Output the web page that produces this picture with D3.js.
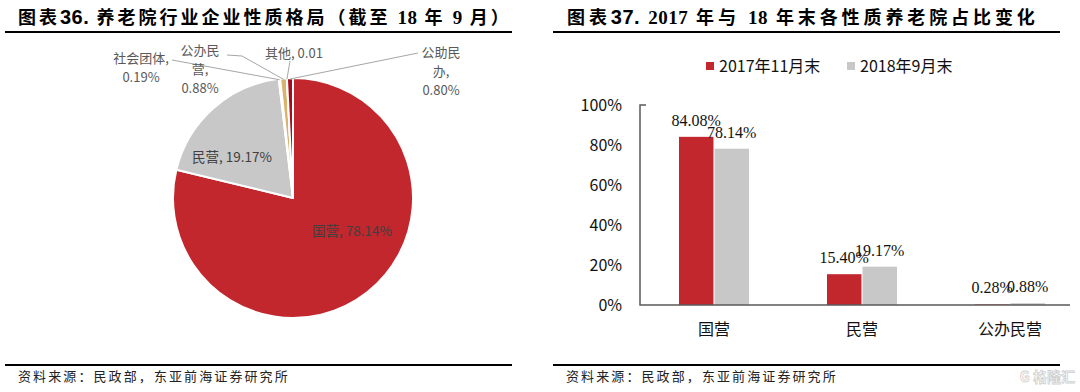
<!DOCTYPE html>
<html><head><meta charset="utf-8">
<script src="https://cdn.jsdelivr.net/npm/d3@7/dist/d3.min.js"></script>
<style>
html,body{margin:0;padding:0;background:#fff;}
svg{display:block;}
</style></head>
<body>
<script>
// ---------- data ----------
const pieCategories = ["国营", "民营", "社会团体", "公办民营", "其他", "公助民办"];
const pieValues = [78.14, 19.17, 0.19, 0.88, 0.01, 0.80];
const pieLabelLines = [["国营, 78.14%"], ["民营, 19.17%"], ["社会团体,", "0.19%"], ["公办民", "营,", "0.88%"], ["其他, 0.01"], ["公助民", "办,", "0.80%"]];

const barCategories = ["国营", "民营", "公办民营"];
const seriesNames = ["2017年11月末", "2018年9月末"];
const series2017 = [84.08, 15.40, 0.28];
const series2018 = [78.14, 19.17, 0.88];
const yTicks = [0, 20, 40, 60, 80, 100];

const title1 = ["图表", "36.", " 养老院行业企业性质格局（截至 ", "18", " 年 ", "9", " 月）"];
const title2 = ["图表", "37.", " ", "2017", " 年与 ", "18", " 年末各性质养老院占比变化"];
const sourceText = "资料来源：民政部，东亚前海证券研究所";

// ---------- styles ----------
const CJK = "'Noto Sans CJK SC','Noto Sans',sans-serif";
const SERIF = "'Liberation Serif','DejaVu Serif',serif";
const SANSB = "'Liberation Sans',Arial,sans-serif";
const RED = "#C1272D", GRAY = "#C8C8C8";
const pieColors = [RED, GRAY, "#FFC000", "#D9B36C", "#7F7F7F", "#A50D1E"];

const svg = d3.select("body").append("svg").attr("width", 1080).attr("height", 392);

// ---------- titles / rules / sources ----------
function drawTitle(parts, x, y, ls) {
  const t = svg.append("text").attr("x", x).attr("y", y)
    .attr("font-size", 18).attr("font-weight", "bold").attr("fill", "#000");
  parts.forEach((p, i) => {
    const isNum = /^[0-9.]+$/.test(p);
    t.append("tspan").text(p)
      .attr("font-family", (i === 1) ? SANSB : (isNum ? SERIF : CJK))
      .attr("font-size", (i === 1) ? 20 : (isNum ? 19 : 18))
      .attr("letter-spacing", isNum ? 0.5 : ls);
  });
}
drawTitle(title1, 18, 24, 3.0);
drawTitle(title2, 567, 24, 3.9);

[[5, 512], [553, 1060]].forEach(([a, b]) => {
  svg.append("line").attr("x1", a).attr("x2", b).attr("y1", 32).attr("y2", 32).attr("stroke", "#000").attr("stroke-width", 2);
  svg.append("line").attr("x1", a).attr("x2", b).attr("y1", 365).attr("y2", 365).attr("stroke", "#000").attr("stroke-width", 2);
});
[18, 566].forEach(x => {
  svg.append("text").attr("x", x).attr("y", 381).text(sourceText)
    .attr("font-family", "'Noto Sans CJK SC',sans-serif").attr("font-size", 13)
    .attr("letter-spacing", 2.1).attr("fill", "#222");
});
// watermark
svg.append("text").attr("x", 1075).attr("y", 382).attr("text-anchor", "end").text("G 格隆汇")
  .attr("font-family", CJK).attr("font-size", 14).attr("font-weight", "bold").attr("fill", "none")
  .attr("stroke", "#d0d0d0").attr("stroke-width", 0.8);

// ---------- pie ----------
const cx = 293, cy = 198, R = 120;
const pie = d3.pie().sort(null).value(d => d)(pieValues);
const arc = d3.arc().innerRadius(0).outerRadius(R);
const gp = svg.append("g").attr("transform", `translate(${cx},${cy})`);
gp.selectAll("path").data(pie).join("path")
  .attr("d", arc).attr("fill", (d, i) => pieColors[i])
  .attr("stroke", "#fff").attr("stroke-width", 2).attr("stroke-linejoin", "round");

// inside labels
const innerPos = [[59, 38], [-61, -36]];
[0, 1].forEach(i => {
  gp.append("text").attr("x", innerPos[i][0]).attr("y", innerPos[i][1])
    .attr("text-anchor", "middle").text(pieLabelLines[i][0])
    .attr("font-family", CJK).attr("font-size", 13.5).attr("fill", "#404040");
});
// outside labels + leaders
const outside = [
  {i: 2, x: 141, y: 63, lead: [[172, 60]]},
  {i: 3, x: 200, y: 55, lead: [[227, 55], [242, 56]]},
  {i: 4, x: 294, y: 58, lead: [[290, 61]]},
  {i: 5, x: 441, y: 57, lead: [[418, 53]]}
];
outside.forEach(o => {
  const d = pie[o.i];
  const a = (d.startAngle + d.endAngle) / 2;
  const ex = cx + Math.sin(a) * (R - 1), ey = cy - Math.cos(a) * (R - 1);
  const pts = o.lead.concat([[ex, ey]]);
  svg.append("path").attr("d", d3.line()(pts)).attr("fill", "none")
    .attr("stroke", "#A6A6A6").attr("stroke-width", 1);
  const t = svg.append("text").attr("text-anchor", "middle")
    .attr("font-family", CJK).attr("font-size", 13).attr("fill", "#595959");
  pieLabelLines[o.i].forEach((ln, k) => {
    t.append("tspan").attr("x", o.x).attr("y", o.y + k * 19).text(ln);
  });
});

// ---------- bar chart ----------
const y = d3.scaleLinear().domain([0, 100]).range([305, 105]);
const x = d3.scaleBand().domain(barCategories).range([640, 1084]);
const rows = barCategories.map((c, i) => ({cat: c, vals: [series2017[i], series2018[i]]}));
const inner = d3.scaleBand().domain([0, 1]).range([0, 70]).paddingInner(0.03);
const colors = [RED, GRAY];

const gb = svg.append("g");
rows.forEach(r => {
  const gx = x(r.cat) + x.bandwidth() / 2 - 35;
  r.vals.forEach((v, k) => {
    gb.append("rect").attr("x", gx + inner(k)).attr("width", inner.bandwidth())
      .attr("y", y(v)).attr("height", y(0) - y(v)).attr("fill", colors[k]);
  });
});
rows.forEach(r => {
  const gx = x(r.cat) + x.bandwidth() / 2 - 35;
  r.vals.forEach((v, k) => {
    gb.append("text").attr("x", gx + inner(k) + inner.bandwidth() / 2).attr("y", y(v) - 11)
      .attr("text-anchor", "middle").text(v.toFixed(2) + "%")
      .attr("font-family", SERIF).attr("font-size", 16).attr("fill", "#111");
  });
});

// axes
const yAxis = d3.axisLeft(y).tickValues(yTicks).tickFormat(d => d + "%").tickSize(0).tickPadding(18);
const ya = svg.append("g").attr("transform", "translate(640,0)").call(yAxis);
ya.select(".domain").remove();
ya.selectAll("text").attr("font-family", CJK).attr("font-size", 16).attr("fill", "#111");
svg.append("path").attr("d", `M646,${y(100)}H640V${y(0)}H1070`).attr("fill", "none")
  .attr("stroke", "#595959").attr("stroke-width", 1.5);

const xAxis = d3.axisBottom(x).tickSize(0).tickPadding(19);
const xa = svg.append("g").attr("transform", `translate(0,${y(0)})`).call(xAxis);
xa.select(".domain").remove();
xa.selectAll("text").attr("font-family", CJK).attr("font-size", 16).attr("fill", "#111");

// legend
const legX = [706, 847];
seriesNames.forEach((n, k) => {
  svg.append("rect").attr("x", legX[k]).attr("y", 62).attr("width", 8).attr("height", 8).attr("fill", colors[k]);
  svg.append("text").attr("x", legX[k] + 13).attr("y", 72).text(n)
    .attr("font-family", CJK).attr("font-size", 16).attr("fill", "#111");
});
</script>
</body></html>
